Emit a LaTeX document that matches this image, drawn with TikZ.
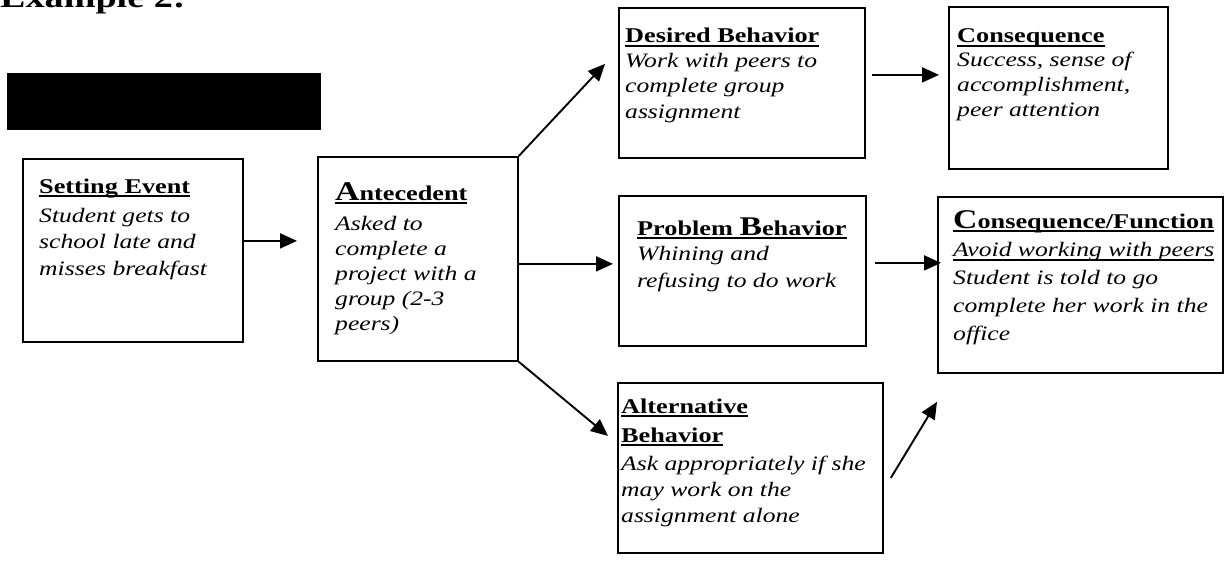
\documentclass[tikz,border=0pt]{standalone}
\usepackage{fontspec}
\setmainfont{Liberation Serif}[FakeStretch=1.25]
\usetikzlibrary{arrows.meta}
\newcommand{\hdul}[1]{\leavevmode\setbox0\hbox{#1}\rlap{\rule[-4pt]{\wd0}{1.7pt}}\box0}
\newcommand{\enl}[1]{{\fontsize{27}{28}\selectfont #1}}
\begin{document}
\begin{tikzpicture}[x=1pt,y=-1pt,
  box/.style={draw, line width=1.8pt, inner sep=0pt, anchor=north west},
  hdr/.style={font=\fontsize{21}{29}\selectfont\bfseries, anchor=base west, inner sep=0pt, align=left},
  bdy/.style={font=\fontsize{20.5}{#1}\selectfont\itshape, anchor=base west, inner sep=0pt, align=left},
  bdy/.default=26.5,
  arr/.style={line width=1.9pt, -{Triangle[length=17pt,width=15pt]}}]
\useasboundingbox (0,0) rectangle (1225,567);
\clip (0,0) rectangle (1225,567);
% title
\node[anchor=base west, inner sep=0pt, font=\fontsize{30.5}{31}\selectfont\bfseries] (title) at (0,8) {Example 2:};
% black bar
\node[box, fill=black, minimum width=312pt, minimum height=55pt] (bar) at (7,73) {};
% boxes
\node[box, minimum width=220pt, minimum height=183pt] (se) at (22,158) {};
\node[box, minimum width=200pt, minimum height=204pt] (ant) at (317,156) {};
\node[box, minimum width=246pt, minimum height=150pt] (des) at (618,7) {};
\node[box, minimum width=219pt, minimum height=162pt] (con) at (948,6) {};
\node[box, minimum width=247pt, minimum height=150pt] (prb) at (618,195) {};
\node[box, minimum width=285pt, minimum height=176pt] (cf) at (937,196) {};
\node[box, minimum width=265pt, minimum height=170pt] (alt) at (617,382) {};
% texts (anchor base = last line)
\node[hdr] (seh) at (39,193) {\hdul{Setting Event}};
\node[bdy=26.5] (set) at (39,275) {Student gets to\\school late and\\misses breakfast};
\node[hdr] (anth) at (335,200) {\hdul{\enl{A}ntecedent}};
\node[bdy=24.8] (antt) at (335,330) {Asked to\\complete a\\project with a\\group (2-3\\peers)};
\node[hdr] (desh) at (625,43) {\hdul{Desired Behavior}};
\node[bdy=25.5] (dest) at (625,118) {Work with peers to\\complete group\\assignment};
\node[hdr] (conh) at (957,43) {\hdul{Consequence}};
\node[bdy=25] (cont) at (957,117) {Success, sense of\\accomplishment,\\peer attention};
\node[hdr] (prbh) at (637,235) {\hdul{Problem \enl{B}ehavior}};
\node[bdy=27] (prbt) at (637,287) {Whining and\\refusing to do work};
\node[hdr] (cfh) at (953,228) {\hdul{\enl{C}onsequence/Function}};
\node[bdy=27.7] (cft) at (953,340) {\hdul{Avoid working with peers}\\Student is told to go\\complete her work in the\\office};
\node[hdr] (alth) at (621,442) {\hdul{Alternative}\\\hdul{Behavior}};
\node[bdy=26] (altt) at (621,522) {Ask appropriately if she\\may work on the\\assignment alone};
% connectors
\draw[arr, shorten >=20pt] ([yshift=9.5pt]se.east) -- ([yshift=9.5pt]se.east -| ant.west);
\draw[arr] (ant.north east) -- ([xshift=-13pt,yshift=19pt]des.west);
\draw[arr, shorten >=15pt] ([xshift=6pt,yshift=8pt]des.east) -- ([xshift=6pt,yshift=8pt]des.east -| con.west);
\draw[arr, shorten >=5pt] ([yshift=-5pt]ant.east) -- ([yshift=-5pt]ant.east -| prb.west);
\draw[arr, shorten >=4pt] ([xshift=8pt,yshift=8pt]prb.east) -- ([xshift=8pt,yshift=8pt]prb.east -| cf.west);
\draw[arr] (ant.south east) -- ([xshift=-9pt,yshift=32pt]alt.west);
\draw[arr] ([xshift=7pt,yshift=-10pt]alt.east) -- ([yshift=-28pt]cf.south west);
\end{tikzpicture}
\end{document}
